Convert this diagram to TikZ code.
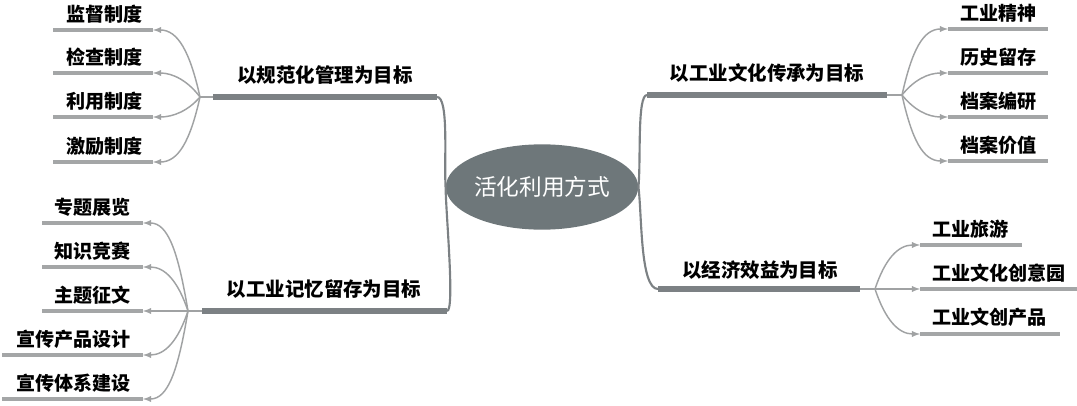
\documentclass[tikz,border=0pt]{standalone}
\usepackage{fontspec}
\newfontfamily\cjk{Noto Sans CJK SC}
\usepackage{xcolor}
\usepackage{tikz}
\usetikzlibrary{shapes.geometric}
\usetikzlibrary{positioning}

\definecolor{rootgray}{HTML}{6E777A}
\definecolor{bargray}{HTML}{7C8184}
\definecolor{leafgray}{HTML}{A4A6A7}
\definecolor{linkgray}{HTML}{A0A2A3}

\begin{document}
\begin{tikzpicture}[x=0.75pt, y=-0.75pt, >=latex,
	root/.style={ellipse, fill=rootgray, text=white, minimum width=130pt, minimum height=64pt, inner sep=0pt, font=\cjk\fontsize{17pt}{19pt}\selectfont},
	goal/.style={inner sep=0pt, font=\cjk\bfseries\fontsize{14.6pt}{16pt}\selectfont},
	leaf/.style={inner sep=0pt, font=\cjk\bfseries\fontsize{14.3pt}{16pt}\selectfont},
	goalbar/.style={line width=3.8pt, bargray},
	leafbar/.style={line width=3pt, leafgray},
	trunk/.style={line width=1.6pt, bargray},
	link/.style={line width=1.1pt, linkgray}]
			\useasboundingbox (0,0) rectangle (1077,406);
			
			\node[root] (root) at (542,187) {活化利用方式};
			
			% Goal bars
			\coordinate (g1a) at (213,97);
			\coordinate (g1b) at (437,97);
			\coordinate (g2a) at (202,311);
			\coordinate (g2b) at (447,311);
			\coordinate (g3a) at (647,95);
			\coordinate (g3b) at (887,95);
			\coordinate (g4a) at (658,289);
			\coordinate (g4b) at (860,289);
			\draw[goalbar] (g1a) -- (g1b);
			\draw[goalbar] (g2a) -- (g2b);
			\draw[goalbar] (g3a) -- (g3b);
			\draw[goalbar] (g4a) -- (g4b);
			\node[goal] (gl1) at (325,75) {以规范化管理为目标};
			\node[goal] (gl2) at (324,289) {以工业记忆留存为目标};
			\node[goal] (gl3) at (767,73) {以工业文化传承为目标};
			\node[goal] (gl4) at (760,270) {以经济效益为目标};
			
			% Trunk lines
			\draw[trunk] (root.west) .. controls (444,160) and (449,97) .. (g1b);
			\draw[trunk] (root.west) .. controls (446,215) and (455,311) .. (g2b);
			\draw[trunk] (root.east) .. controls (641,160) and (637,95) .. (g3a);
			\draw[trunk] (root.east) .. controls (642,215) and (640,289) .. (g4a);
			
			% Forks
			\coordinate (f1) at (200,97);
			\coordinate (f2) at (188,311);
			\coordinate (f3) at (902,95);
			\coordinate (f4) at (875,289);
			\draw[link] (f1) -- (g1a);
			\draw[link] (f2) -- (g2a);
			\draw[link] (g3b) -- (f3);
			\draw[link] (g4b) -- (f4);
			
			% Upper left leaves
			\coordinate (a1a) at (53,30);  \coordinate (a1b) at (153,30);
			\coordinate (a2a) at (53,73);  \coordinate (a2b) at (153,73);
			\coordinate (a3a) at (53,117); \coordinate (a3b) at (153,117);
			\coordinate (a4a) at (53,162); \coordinate (a4b) at (153,162);
			\draw[leafbar] (a1a) -- (a1b);
			\draw[leafbar] (a2a) -- (a2b);
			\draw[leafbar] (a3a) -- (a3b);
			\draw[leafbar] (a4a) -- (a4b);
			\node[leaf, anchor=east] (al1) at (143,14) {监督制度};
			\node[leaf, anchor=east] (al2) at (143,57) {检查制度};
			\node[leaf, anchor=east] (al3) at (143,101) {利用制度};
			\node[leaf, anchor=east] (al4) at (143,146) {激励制度};
			\draw[link, ->] (f1) .. controls +(-10,-45) and +(25,0) .. (a1b);
			\draw[link, ->] (f1) .. controls +(-12,-16) and +(20,0) .. (a2b);
			\draw[link, ->] (f1) .. controls +(-12,14) and +(20,0) .. (a3b);
			\draw[link, ->] (f1) .. controls +(-10,45) and +(25,0) .. (a4b);
			
			% Lower left leaves
			\coordinate (b1a) at (42,223); \coordinate (b1b) at (143,223);
			\coordinate (b2a) at (42,267); \coordinate (b2b) at (143,267);
			\coordinate (b3a) at (42,311); \coordinate (b3b) at (143,311);
			\coordinate (b4a) at (2,355);  \coordinate (b4b) at (143,355);
			\coordinate (b5a) at (2,399);  \coordinate (b5b) at (143,399);
			\draw[leafbar] (b1a) -- (b1b);
			\draw[leafbar] (b2a) -- (b2b);
			\draw[leafbar] (b3a) -- (b3b);
			\draw[leafbar] (b4a) -- (b4b);
			\draw[leafbar] (b5a) -- (b5b);
			\node[leaf, anchor=east] (bl1) at (131,207) {专题展览};
			\node[leaf, anchor=east] (bl2) at (131,251) {知识竞赛};
			\node[leaf, anchor=east] (bl3) at (131,295) {主题征文};
			\node[leaf, anchor=east] (bl4) at (131,339) {宣传产品设计};
			\node[leaf, anchor=east] (bl5) at (131,383) {宣传体系建设};
			\draw[link, ->] (f2) .. controls +(-10,-60) and +(25,0) .. (b1b);
			\draw[link, ->] (f2) .. controls +(-10,-30) and +(22,0) .. (b2b);
			\draw[link, ->] (f2) -- (b3b);
			\draw[link, ->] (f2) .. controls +(-10,30) and +(22,0) .. (b4b);
			\draw[link, ->] (f2) .. controls +(-10,60) and +(25,0) .. (b5b);
			
			% Upper right leaves
			\coordinate (c1a) at (948,29);  \coordinate (c1b) at (1048,29);
			\coordinate (c2a) at (948,73);  \coordinate (c2b) at (1048,73);
			\coordinate (c3a) at (948,117); \coordinate (c3b) at (1048,117);
			\coordinate (c4a) at (948,161); \coordinate (c4b) at (1048,161);
			\draw[leafbar] (c1a) -- (c1b);
			\draw[leafbar] (c2a) -- (c2b);
			\draw[leafbar] (c3a) -- (c3b);
			\draw[leafbar] (c4a) -- (c4b);
			\node[leaf, anchor=west] (cl1) at (960,13) {工业精神};
			\node[leaf, anchor=west] (cl2) at (960,57) {历史留存};
			\node[leaf, anchor=west] (cl3) at (960,101) {档案编研};
			\node[leaf, anchor=west] (cl4) at (960,145) {档案价值};
			\draw[link, ->] (f3) .. controls +(10,-45) and +(-25,0) .. (c1a);
			\draw[link, ->] (f3) .. controls +(12,-15) and +(-20,0) .. (c2a);
			\draw[link, ->] (f3) .. controls +(12,15) and +(-20,0) .. (c3a);
			\draw[link, ->] (f3) .. controls +(10,45) and +(-25,0) .. (c4a);
			
			% Lower right leaves
			\coordinate (d1a) at (920,245); \coordinate (d1b) at (1022,245);
			\coordinate (d2a) at (920,289); \coordinate (d2b) at (1077,289);
			\coordinate (d3a) at (920,334); \coordinate (d3b) at (1060,334);
			\draw[leafbar] (d1a) -- (d1b);
			\draw[leafbar] (d2a) -- (d2b);
			\draw[leafbar] (d3a) -- (d3b);
			\node[leaf, anchor=west] (dl1) at (932,229) {工业旅游};
			\node[leaf, anchor=west] (dl2) at (932,273) {工业文化创意园};
			\node[leaf, anchor=west] (dl3) at (932,317) {工业文创产品};
			\draw[link, ->] (f4) .. controls +(10,-30) and +(-22,0) .. (d1a);
			\draw[link, ->] (f4) -- (d2a);
			\draw[link, ->] (f4) .. controls +(10,30) and +(-22,0) .. (d3a);
		\end{tikzpicture}
\end{document}
